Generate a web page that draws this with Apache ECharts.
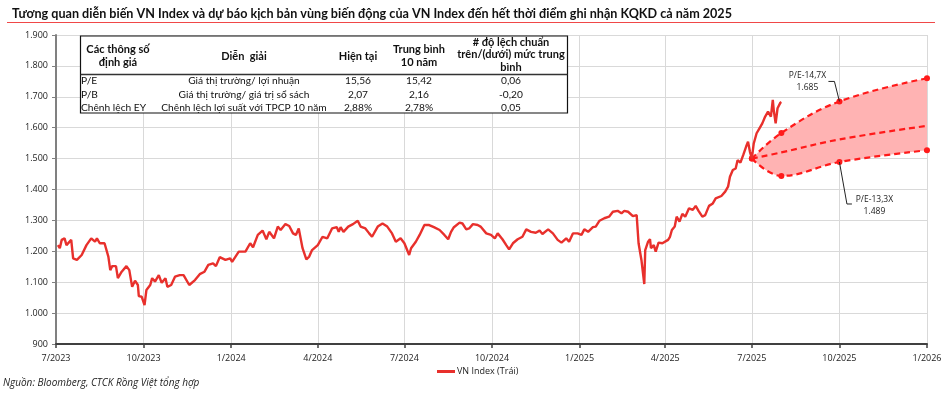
<!DOCTYPE html>
<html><head><meta charset="utf-8">
<script src="https://cdn.jsdelivr.net/npm/echarts@6/dist/echarts.min.js"></script>
<style>html,body{margin:0;padding:0;background:#fff}#c{width:949px;height:396px}</style>
</head><body><div id="c"></div>
<script>
const titleText = 'Tương quan diễn biến VN Index và dự báo kịch bản vùng biến động của VN Index đến hết thời điểm ghi nhận KQKD cả năm 2025';
const sourceText = 'Nguồn: Bloomberg, CTCK Rồng Việt tổng hợp';
const seriesName = 'VN Index (Trái)';
const xTicks = ['2023-07-01','2023-10-01','2024-01-01','2024-04-01','2024-07-01','2024-10-01','2025-01-01','2025-04-01','2025-07-01','2025-10-01','2026-01-01'];
const yTicks = [900,1000,1100,1200,1300,1400,1500,1600,1700,1800,1900];

const vnDates = ['2023-07-03','2023-07-05','2023-07-07','2023-07-10','2023-07-12','2023-07-17','2023-07-18','2023-07-19','2023-07-23','2023-07-28',
'2023-08-02','2023-08-07','2023-08-11','2023-08-13','2023-08-16','2023-08-21','2023-08-25','2023-08-27','2023-08-29','2023-09-02',
'2023-09-04','2023-09-08','2023-09-13','2023-09-16','2023-09-19','2023-09-22','2023-09-25','2023-09-26','2023-09-29','2023-10-02',
'2023-10-04','2023-10-08','2023-10-10','2023-10-13','2023-10-17','2023-10-20','2023-10-24','2023-10-26','2023-10-30','2023-11-03',
'2023-11-08','2023-11-12','2023-11-18','2023-11-24','2023-11-29','2023-12-04','2023-12-08','2023-12-13','2023-12-16','2023-12-20',
'2023-12-26','2023-12-31','2024-01-02','2024-01-09','2024-01-16','2024-01-21','2024-01-24','2024-01-29','2024-02-03','2024-02-07',
'2024-02-10','2024-02-15','2024-02-19','2024-02-22','2024-02-27','2024-03-02','2024-03-06','2024-03-09','2024-03-12','2024-03-16',
'2024-03-20','2024-03-23','2024-03-26','2024-04-01','2024-04-06','2024-04-11','2024-04-16','2024-04-21','2024-04-23','2024-04-25',
'2024-04-28','2024-05-03','2024-05-08','2024-05-13','2024-05-16','2024-05-21','2024-05-25','2024-05-28','2024-06-03','2024-06-08',
'2024-06-13','2024-06-18','2024-06-22','2024-06-27','2024-07-01','2024-07-06','2024-07-08','2024-07-13','2024-07-17','2024-07-22',
'2024-07-27','2024-08-01','2024-08-07','2024-08-12','2024-08-16','2024-08-19','2024-08-22','2024-08-28','2024-08-31','2024-09-04',
'2024-09-07','2024-09-11','2024-09-16','2024-09-19','2024-09-25','2024-09-30','2024-10-04','2024-10-07','2024-10-12','2024-10-16',
'2024-10-19','2024-10-23','2024-10-28','2024-11-02','2024-11-06','2024-11-11','2024-11-16','2024-11-20','2024-11-23','2024-11-29',
'2024-12-04','2024-12-09','2024-12-13','2024-12-18','2024-12-21','2024-12-25','2024-12-30','2025-01-03','2025-01-06','2025-01-10',
'2025-01-15','2025-01-18','2025-01-22','2025-01-27','2025-02-01','2025-02-05','2025-02-10','2025-02-14','2025-02-17','2025-02-21',
'2025-02-26','2025-03-02','2025-03-04','2025-03-07','2025-03-10','2025-03-11','2025-03-14','2025-03-16','2025-03-17','2025-03-20',
'2025-03-22','2025-03-25','2025-03-29','2025-04-04','2025-04-06','2025-04-08','2025-04-11','2025-04-13','2025-04-16','2025-04-19',
'2025-04-22','2025-04-26','2025-04-30','2025-05-03','2025-05-06','2025-05-10','2025-05-13','2025-05-17','2025-05-21','2025-05-24',
'2025-05-30','2025-06-03','2025-06-06','2025-06-08','2025-06-11','2025-06-14','2025-06-16','2025-06-19','2025-06-22','2025-06-25',
'2025-06-27','2025-06-29','2025-07-01','2025-07-03','2025-07-06','2025-07-09','2025-07-12','2025-07-15','2025-07-17','2025-07-18',
'2025-07-21','2025-07-23','2025-07-24','2025-07-26','2025-07-28','2025-07-31','2025-08-01'];
const vnValues = [1220,1210,1237,1242,1220,1237,1242,1177,1172,1188,
1220,1242,1231,1242,1226,1226,1183,1139,1152,1152,
1113,1134,1152,1139,1085,1105,1091,1055,1053,1026,
1075,1091,1113,1102,1123,1098,1113,1085,1091,1118,
1123,1123,1091,1107,1126,1134,1156,1161,1152,1181,
1172,1177,1166,1199,1199,1226,1213,1253,1267,1239,
1263,1242,1280,1269,1288,1282,1258,1253,1274,1210,
1174,1183,1204,1220,1247,1242,1274,1278,1263,1278,
1263,1280,1288,1299,1280,1274,1258,1247,1280,1290,
1280,1258,1231,1242,1226,1188,1210,1231,1253,1285,
1285,1278,1269,1253,1239,1263,1278,1293,1290,1271,
1274,1288,1285,1280,1258,1253,1242,1258,1239,1220,
1206,1226,1239,1247,1271,1263,1260,1267,1256,1271,
1258,1237,1228,1242,1231,1258,1258,1253,1271,1263,
1278,1280,1299,1307,1312,1328,1331,1323,1331,1328,
1314,1317,1226,1172,1094,1204,1231,1239,1210,1220,
1199,1228,1226,1237,1247,1269,1280,1312,1296,1321,
1312,1339,1334,1347,1331,1312,1317,1347,1355,1371,
1379,1393,1409,1441,1463,1468,1495,1487,1512,1539,
1555,1522,1501,1549,1582,1598,1614,1636,1641,1652,
1636,1690,1657,1614,1663,1681,1683];

const fcDates = ['2025-07-01','2025-08-01','2025-10-01','2026-01-01'];
const fcUpper = [1500,1583,1685,1760];
const fcLower = [1500,1444,1489,1527];
const fcMid = [1500,1520,1562,1606];
const annotUpper = ['P/E-14,7X','1.685'];
const annotLower = ['P/E-13,3X','1.489'];

const tableHeader = [['Các thông số','định giá'],['Diễn  giải'],['Hiện tại'],['Trung bình','10 năm'],['# độ lệch chuẩn','trên/(dưới) mức trung','bình']];
const tableRows = [
  ['P/E','Giá thị trường/ lợi nhuận','15,56','15,42','0,06'],
  ['P/B','Giá thị trường/ giá trị sổ sách','2,07','2,16','-0,20'],
  ['Chênh lệch EY','Chênh lệch lợi suất với TPCP 10 năm','2,88%','2,78%','0,05']
];

const TFONT = "Lato, 'Open Sans', sans-serif";
const AFONT = "'Open Sans', sans-serif";
function ts(s){const p=s.split('-').map(Number);return new Date(p[0],p[1]-1,p[2]).getTime();}
function fmtNum(v){return v>=1000?Math.floor(v/1000)+'.'+String(v%1000).padStart(3,'0'):String(v);}

const chart = echarts.init(document.getElementById('c'), null, {renderer:'canvas'});
const xTickTs = xTicks.map(ts);
const xMin = xTickTs[0], xMax = xTickTs[xTickTs.length-1];
const band = fcUpper.map((u,i)=>u-fcLower[i]);
const RED = '#ff1a1a';
const SM = 0.4;
const dashed = {type:[6,4], width:2.2, color:RED};
const pair = (dates,vals)=>dates.map((d,i)=>[ts(d),vals[i]]);

chart.setOption({
  animation:false,
  title:{text:titleText,left:7,top:2,textStyle:{fontFamily:TFONT,fontWeight:'bold',fontSize:12.6,color:'#111'}},
  grid:{left:56,right:22,top:35,bottom:52},
  legend:{data:[{name:seriesName,icon:'rect'}],left:432,top:362,itemWidth:18,itemHeight:3,itemGap:2,
    textStyle:{fontFamily:AFONT,fontSize:9,color:'#222',padding:[0,0,0,-3]}},
  xAxis:[{type:'value',min:xMin,max:xMax,
    axisLine:{lineStyle:{color:'#404040',width:2}},
    axisTick:{show:true,length:4,customValues:xTickTs,lineStyle:{color:'#404040',width:1.5}},
    axisLabel:{customValues:xTickTs,margin:10,fontFamily:AFONT,fontSize:9,color:'#222',
      formatter:function(v){const d=new Date(v);return (d.getMonth()+1)+'/'+d.getFullYear();}},
    splitLine:{show:true,lineStyle:{color:'#d9d9d9',width:1}}},
   {type:'time',min:xMin,max:xMax,show:false,splitLine:{show:false}}],
  yAxis:{type:'value',min:yTicks[0],max:yTicks[yTicks.length-1],interval:100,
    axisLine:{show:true,lineStyle:{color:'#808080',width:2}},
    axisTick:{show:true,length:4,lineStyle:{color:'#808080'}},
    axisLabel:{margin:8,fontFamily:AFONT,fontSize:9,color:'#222',formatter:fmtNum},
    splitLine:{show:true,lineStyle:{color:'#d9d9d9',width:1}}},
  series:[
    {name:'bandBase',type:'line',xAxisIndex:1,stack:'band',smooth:SM,symbol:'none',silent:true,
      lineStyle:{opacity:0},data:pair(fcDates,fcLower),z:1},
    {name:'bandFill',type:'line',xAxisIndex:1,stack:'band',smooth:SM,symbol:'none',silent:true,
      lineStyle:{opacity:0},areaStyle:{color:'#ffb3b3',opacity:1},data:pair(fcDates,band),z:1},
    {name:'mid',type:'line',xAxisIndex:1,smooth:SM,symbol:'none',lineStyle:dashed,data:pair(fcDates,fcMid),z:3},
    {name:'upper',type:'line',xAxisIndex:1,smooth:SM,symbol:'circle',symbolSize:6,itemStyle:{color:RED},lineStyle:dashed,data:pair(fcDates,fcUpper),z:3},
    {name:'lower',type:'line',xAxisIndex:1,smooth:SM,symbol:'circle',symbolSize:6,itemStyle:{color:RED},lineStyle:dashed,data:pair(fcDates,fcLower),z:3},
    {name:seriesName,type:'line',xAxisIndex:1,symbol:'none',lineStyle:{color:'#e8302c',width:2.4},itemStyle:{color:'#e8302c'},
      data:pair(vnDates,vnValues),z:4}
  ]
});

const g = [];
g.push({type:'line',shape:{x1:7,y1:22.5,x2:935,y2:22.5},style:{stroke:'#f04848',lineWidth:1},z:10});
const T = {x:80.5,y:36,w:487,h:77,hy:74.5};
g.push({type:'rect',shape:{x:T.x,y:T.y,width:T.w,height:T.h},style:{fill:'#fff',stroke:'#111',lineWidth:1.2},z:10});
g.push({type:'line',shape:{x1:T.x,y1:T.hy,x2:T.x+T.w,y2:T.hy},style:{stroke:'#333',lineWidth:1.5},z:11});
const colX = [118,244,358,419,511];
tableHeader.forEach((lines,i)=>{
  g.push({type:'text',z:12,style:{text:lines.join('\n'),x:colX[i],y:lines.length>2?54.5:56,align:'center',verticalAlign:'middle',
    lineHeight:12.5,font:'bold 11px '+TFONT,fill:'#111'}});
});
const rowY = [81,94.5,107.5];
tableRows.forEach((row,r)=>{
  row.forEach((cell,c)=>{
    g.push({type:'text',z:12,style:{text:cell,x:c===0?81:colX[c],y:rowY[r],align:c===0?'left':'center',verticalAlign:'middle',
      font:'10.2px '+TFONT,fill:'#111'}});
  });
});
const pu = chart.convertToPixel({xAxisIndex:1,yAxisIndex:0},[ts(fcDates[2]),fcUpper[2]]);
const pl = chart.convertToPixel({xAxisIndex:1,yAxisIndex:0},[ts(fcDates[2]),fcLower[2]]);
g.push({type:'polyline',z:12,shape:{points:[[pu[0]-11,pu[1]-20],[pu[0]-5,pu[1]-20],[pu[0],pu[1]]]},style:{stroke:'#222',lineWidth:1,fill:null}});
g.push({type:'text',z:12,style:{text:annotUpper.join('\n'),x:pu[0]-32,y:pu[1]-20,align:'center',verticalAlign:'middle',lineHeight:12,font:'8.5px '+AFONT,fill:'#222'}});
g.push({type:'polyline',z:12,shape:{points:[[pl[0],pl[1]],[pl[0]+7.5,pl[1]+42],[pl[0]+12.5,pl[1]+42]]},style:{stroke:'#222',lineWidth:1,fill:null}});
g.push({type:'text',z:12,style:{text:annotLower.join('\n'),x:pl[0]+35,y:pl[1]+44,align:'center',verticalAlign:'middle',lineHeight:12,font:'8.5px '+AFONT,fill:'#222'}});
g.push({type:'text',z:12,style:{text:sourceText,x:3,y:383,align:'left',verticalAlign:'middle',font:'italic 10px '+AFONT,fill:'#222'}});
chart.setOption({graphic:g});
</script></body></html>
